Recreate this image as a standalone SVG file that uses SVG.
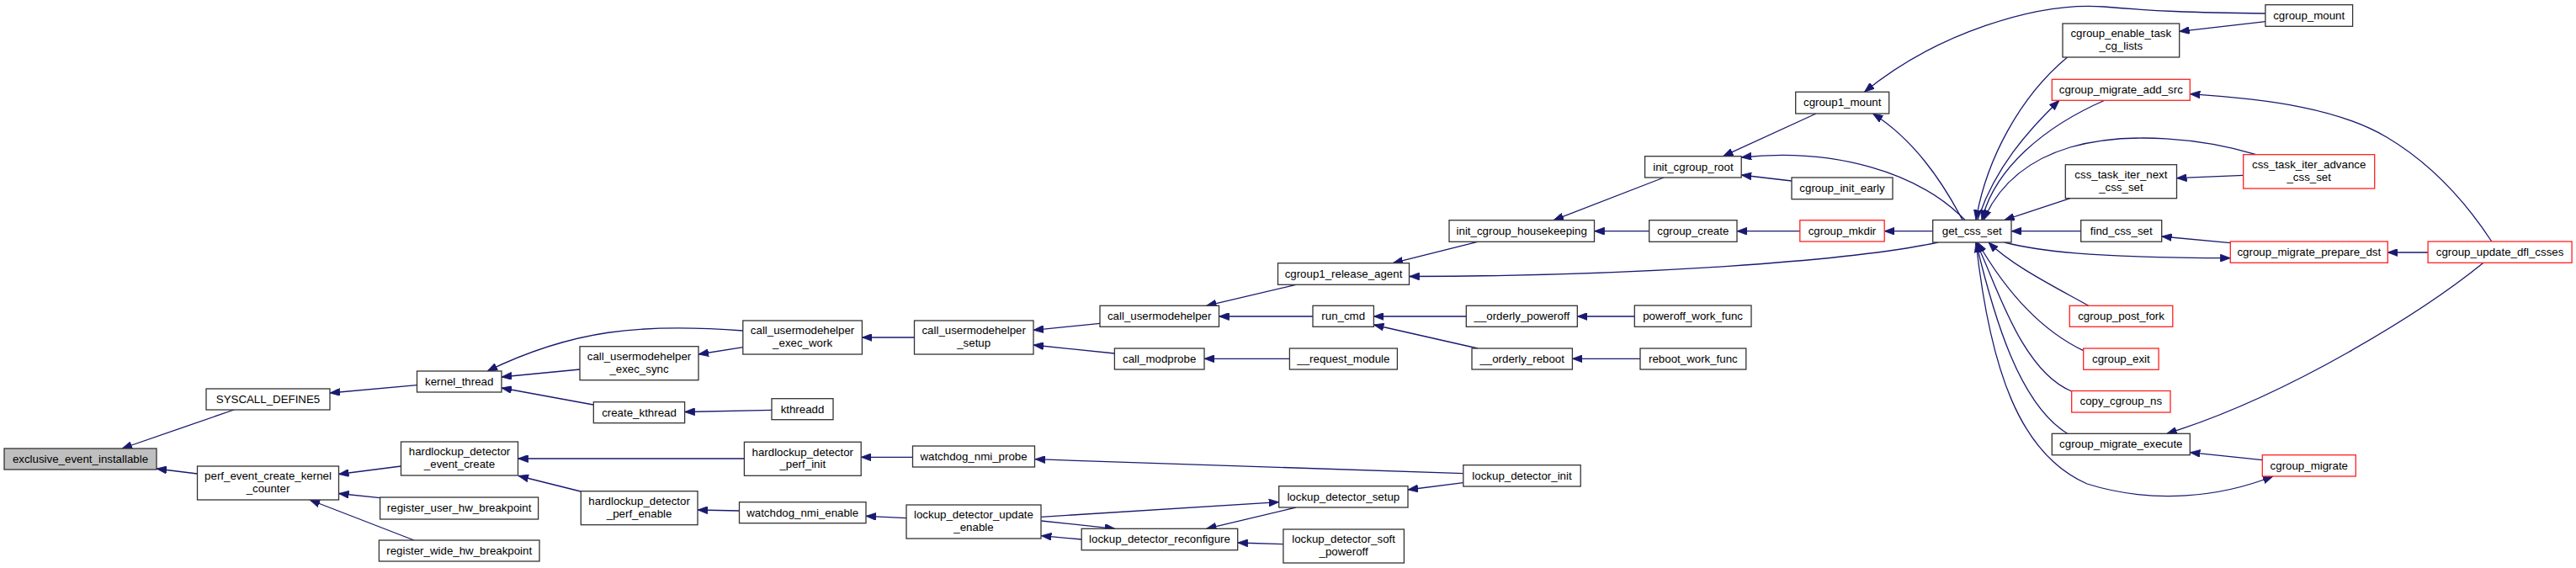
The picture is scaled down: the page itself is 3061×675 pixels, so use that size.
<svg xmlns="http://www.w3.org/2000/svg" width="3061" height="675" viewBox="0 0 3061 675">
<style>
.n rect{fill:#ffffff;stroke:#333333;stroke-width:1.3}
.n.r rect{stroke:#ff2020}
.n.root rect{fill:#bfbfbf}
.n text{font-family:"Liberation Sans",Arial,sans-serif;font-size:13.3px;fill:#000;text-anchor:middle}
.e path{fill:none;stroke:#191970;stroke-width:1.3;marker-end:url(#ah)}
</style>
<defs>
<marker id="ah" viewBox="0 0 12 9" refX="12" refY="4.5" markerWidth="12" markerHeight="9" markerUnits="userSpaceOnUse" orient="auto">
<path d="M0,0 L12,4.5 L0,9 z" fill="#191970" stroke="#191970" stroke-width="0.8"/>
</marker>
</defs>
<rect width="3061" height="675" fill="#ffffff"/>
<g id="edges" class="e">
<path d="M278,487 L145,533"/>
<path d="M234.5,563 L186,557"/>
<path d="M495.5,457.7 L392,467"/>
<path d="M476.5,554 L402.5,563.5"/>
<path d="M451.6,591.7 L402.5,586.5"/>
<path d="M492,642 Q440,622 368,594"/>
<path d="M883,393 C760,384 680,392 579,441"/>
<path d="M689,439 L596,448"/>
<path d="M705,481 L596,461"/>
<path d="M883,412.7 L830,421"/>
<path d="M1086.5,401 L1024.4,401"/>
<path d="M917,487.3 L813.6,489.5"/>
<path d="M884.4,545 L615.6,545"/>
<path d="M690,584 L616,565.5"/>
<path d="M1084.5,543.3 L1023.2,543.3"/>
<path d="M878.5,607 L829,606"/>
<path d="M1077,615.7 L1029,613.3"/>
<path d="M1307,384.3 L1228,392.3"/>
<path d="M1324.4,420 L1228,410"/>
<path d="M1540,338.3 L1433.5,363.3"/>
<path d="M1560,376 L1448.5,376"/>
<path d="M1532.4,426.3 L1431,426.3"/>
<path d="M1742.3,376 L1632.4,376"/>
<path d="M1756,414 L1632.4,386"/>
<path d="M1738.8,562.7 L1230,545.7"/>
<path d="M1738.8,573.7 L1673,582"/>
<path d="M1237.4,614.3 L1519.7,596.7"/>
<path d="M1237.4,619 L1325,628.3"/>
<path d="M1285.2,641 L1237.4,636.7"/>
<path d="M1540,603 L1433.5,628.3"/>
<path d="M1524.9,646.7 L1470.7,645"/>
<path d="M1755.8,287.3 L1655,312.7"/>
<path d="M2303,288 C2200,310 1950,328 1674.7,328.5"/>
<path d="M1942.3,376 L1874.3,376"/>
<path d="M1949,426.3 L1868.4,426.3"/>
<path d="M1977,211 L1846,261.7"/>
<path d="M1959.7,274.7 L1894.5,274.7"/>
<path d="M2138.8,274.7 L2064,274.7"/>
<path d="M2296.7,274.7 L2239.2,274.7"/>
<path d="M2158,135 L2047.5,185.7"/>
<path d="M2129,215 L2069.2,208"/>
<path d="M2335,261.5 C2280,205 2180,175 2069.2,187"/>
<path d="M2332,261.5 C2300,200 2265,160 2225.4,135"/>
<path d="M2692,16 C2600,15 2560,13 2500,8 C2420,2 2300,40 2215.5,109.3"/>
<path d="M2691.9,25.7 L2589.7,37.3"/>
<path d="M2456.6,68 C2400,115 2360,190 2348,261.5"/>
<path d="M2350,261.5 C2370,200 2410,155 2447,119.3"/>
<path d="M2501.4,119 C2430,150 2370,200 2355,261.5"/>
<path d="M2680.8,183.7 C2620,165 2530,155 2460,175 C2410,190 2375,220 2357,261.5"/>
<path d="M2665.7,208.3 L2586.5,211.7"/>
<path d="M2460,235.7 L2381.7,261.5"/>
<path d="M2472.7,274.7 L2390,274.7"/>
<path d="M2650.3,288.7 L2568.7,281"/>
<path d="M2381.7,288 C2420,298 2480,306 2650.3,306.7"/>
<path d="M2885.1,300 L2837.2,300"/>
<path d="M2960.8,287 C2930,240 2890,195 2836,163 C2780,130 2700,118 2602.4,111.7"/>
<path d="M2951,312.3 C2880,370 2720,470 2574.7,515.3"/>
<path d="M2688.3,546.7 L2602.4,537.7"/>
<path d="M2348,288 C2365,440 2400,540 2480,575 C2560,600 2640,590 2701,566"/>
<path d="M2481.7,363.3 C2440,340 2390,315 2363,288"/>
<path d="M2475.7,416.7 C2420,390 2380,340 2350,288"/>
<path d="M2461.7,465 C2400,440 2370,330 2348,288"/>
<path d="M2456.7,515.3 C2400,480 2370,380 2348,288"/>
</g>
<g id="exclusive_event_installable" class="n root"><rect x="5" y="533" width="181" height="25"/><text x="95.5" y="549.8">exclusive_event_installable</text></g>
<g id="SYSCALL_DEFINE5" class="n"><rect x="245" y="462" width="147" height="25"/><text x="318.5" y="478.8">SYSCALL_DEFINE5</text></g>
<g id="perf_event_create_kernel_counter" class="n"><rect x="234.5" y="554" width="168" height="40"/><text x="318.5" y="570.2">perf_event_create_kernel</text><text x="318.5" y="585">_counter</text></g>
<g id="kernel_thread" class="n"><rect x="495.5" y="441" width="100.5" height="25"/><text x="545.7" y="457.8">kernel_thread</text></g>
<g id="hardlockup_detector_event_create" class="n"><rect x="476.5" y="525" width="139" height="40"/><text x="546" y="541.2">hardlockup_detector</text><text x="546" y="556">_event_create</text></g>
<g id="register_user_hw_breakpoint" class="n"><rect x="451.6" y="591" width="188" height="26"/><text x="545.6" y="608.3">register_user_hw_breakpoint</text></g>
<g id="register_wide_hw_breakpoint" class="n"><rect x="450.4" y="642" width="190.6" height="25"/><text x="545.7" y="658.8">register_wide_hw_breakpoint</text></g>
<g id="call_usermodehelper_exec_work" class="n"><rect x="882.8" y="381" width="141.6" height="40"/><text x="953.6" y="397.2">call_usermodehelper</text><text x="953.6" y="412">_exec_work</text></g>
<g id="call_usermodehelper_exec_sync" class="n"><rect x="689" y="411.7" width="141" height="40"/><text x="759.5" y="427.9">call_usermodehelper</text><text x="759.5" y="442.7">_exec_sync</text></g>
<g id="create_kthread" class="n"><rect x="705.3" y="477.7" width="108.3" height="25"/><text x="759.5" y="494.5">create_kthread</text></g>
<g id="kthreadd" class="n"><rect x="917" y="473.7" width="73" height="25"/><text x="953.5" y="490.5">kthreadd</text></g>
<g id="hardlockup_detector_perf_init" class="n"><rect x="884.4" y="525.3" width="138.8" height="40"/><text x="953.8" y="541.5">hardlockup_detector</text><text x="953.8" y="556.3">_perf_init</text></g>
<g id="hardlockup_detector_perf_enable" class="n"><rect x="690.3" y="583.7" width="138.7" height="40"/><text x="759.6" y="599.9">hardlockup_detector</text><text x="759.6" y="614.7">_perf_enable</text></g>
<g id="call_usermodehelper_setup" class="n"><rect x="1086.5" y="381" width="141.5" height="40"/><text x="1157.2" y="397.2">call_usermodehelper</text><text x="1157.2" y="412">_setup</text></g>
<g id="watchdog_nmi_probe" class="n"><rect x="1084.5" y="530" width="145" height="25"/><text x="1157" y="546.8">watchdog_nmi_probe</text></g>
<g id="watchdog_nmi_enable" class="n"><rect x="878.5" y="596.7" width="150.5" height="25"/><text x="953.7" y="613.5">watchdog_nmi_enable</text></g>
<g id="lockup_detector_update_enable" class="n"><rect x="1077" y="600" width="160" height="40"/><text x="1157" y="616.2">lockup_detector_update</text><text x="1157" y="631">_enable</text></g>
<g id="call_usermodehelper" class="n"><rect x="1307" y="363.3" width="141.5" height="25"/><text x="1377.7" y="380.1">call_usermodehelper</text></g>
<g id="call_modprobe" class="n"><rect x="1324.4" y="414" width="106.6" height="25"/><text x="1377.7" y="430.8">call_modprobe</text></g>
<g id="cgroup1_release_agent" class="n"><rect x="1518.5" y="312.7" width="156" height="25.6"/><text x="1596.5" y="329.5">cgroup1_release_agent</text></g>
<g id="run_cmd" class="n"><rect x="1560" y="363.3" width="72.4" height="25"/><text x="1596.2" y="380.1">run_cmd</text></g>
<g id="__request_module" class="n"><rect x="1532.4" y="414" width="128" height="25"/><text x="1596.4" y="430.8">__request_module</text></g>
<g id="lockup_detector_setup" class="n"><rect x="1519.7" y="577.7" width="153.3" height="25.3"/><text x="1596.3" y="594.5">lockup_detector_setup</text></g>
<g id="lockup_detector_reconfigure" class="n"><rect x="1285.2" y="628.3" width="185.5" height="25.4"/><text x="1378" y="645.1">lockup_detector_reconfigure</text></g>
<g id="lockup_detector_soft_poweroff" class="n"><rect x="1524.9" y="629" width="143.5" height="40"/><text x="1596.6" y="645.2">lockup_detector_soft</text><text x="1596.6" y="660">_poweroff</text></g>
<g id="init_cgroup_housekeeping" class="n"><rect x="1722" y="261.7" width="172.5" height="25.6"/><text x="1808.2" y="278.5">init_cgroup_housekeeping</text></g>
<g id="__orderly_poweroff" class="n"><rect x="1742.3" y="363.3" width="132" height="25"/><text x="1808.3" y="380.1">__orderly_poweroff</text></g>
<g id="__orderly_reboot" class="n"><rect x="1749" y="414" width="119.4" height="25"/><text x="1808.7" y="430.8">__orderly_reboot</text></g>
<g id="lockup_detector_init" class="n"><rect x="1738.8" y="552.7" width="139.4" height="25.3"/><text x="1808.5" y="569.5">lockup_detector_init</text></g>
<g id="poweroff_work_func" class="n"><rect x="1942.3" y="363" width="138.7" height="25.3"/><text x="2011.6" y="379.8">poweroff_work_func</text></g>
<g id="reboot_work_func" class="n"><rect x="1949" y="414" width="125.8" height="25"/><text x="2011.9" y="430.8">reboot_work_func</text></g>
<g id="init_cgroup_root" class="n"><rect x="1954.6" y="185.7" width="114.6" height="25.3"/><text x="2011.9" y="202.5">init_cgroup_root</text></g>
<g id="cgroup_create" class="n"><rect x="1959.7" y="261.7" width="104.3" height="25.6"/><text x="2011.8" y="278.5">cgroup_create</text></g>
<g id="cgroup1_mount" class="n"><rect x="2133.7" y="109.3" width="111" height="25.7"/><text x="2189.2" y="126.1">cgroup1_mount</text></g>
<g id="cgroup_init_early" class="n"><rect x="2129" y="211" width="120" height="25.7"/><text x="2189" y="227.8">cgroup_init_early</text></g>
<g id="cgroup_mkdir" class="n r"><rect x="2138.8" y="261.7" width="100.4" height="25.3"/><text x="2189" y="278.5">cgroup_mkdir</text></g>
<g id="get_css_set" class="n"><rect x="2296.7" y="261.5" width="93.3" height="26.5"/><text x="2343.3" y="278.8">get_css_set</text></g>
<g id="cgroup_mount" class="n"><rect x="2691.9" y="5.7" width="103.7" height="25.6"/><text x="2743.7" y="22.5">cgroup_mount</text></g>
<g id="cgroup_enable_task_cg_lists" class="n"><rect x="2451" y="28" width="138.7" height="40"/><text x="2520.3" y="44.2">cgroup_enable_task</text><text x="2520.3" y="59">_cg_lists</text></g>
<g id="cgroup_migrate_add_src" class="n r"><rect x="2438.3" y="94.3" width="164" height="25"/><text x="2520.3" y="111.1">cgroup_migrate_add_src</text></g>
<g id="css_task_iter_next_css_set" class="n"><rect x="2454.3" y="195.7" width="132.2" height="40"/><text x="2520.4" y="211.9">css_task_iter_next</text><text x="2520.4" y="226.7">_css_set</text></g>
<g id="css_task_iter_advance_css_set" class="n r"><rect x="2665.7" y="183.7" width="156" height="40.3"/><text x="2743.7" y="199.9">css_task_iter_advance</text><text x="2743.7" y="214.7">_css_set</text></g>
<g id="find_css_set" class="n"><rect x="2472.7" y="261.7" width="96" height="25.5"/><text x="2520.7" y="278.5">find_css_set</text></g>
<g id="cgroup_migrate_prepare_dst" class="n r"><rect x="2650.3" y="287" width="187" height="25.3"/><text x="2743.8" y="303.8">cgroup_migrate_prepare_dst</text></g>
<g id="cgroup_update_dfl_csses" class="n r"><rect x="2885.1" y="287" width="171" height="25.3"/><text x="2970.6" y="303.8">cgroup_update_dfl_csses</text></g>
<g id="cgroup_post_fork" class="n r"><rect x="2459.3" y="363.3" width="122.5" height="25"/><text x="2520.5" y="380.1">cgroup_post_fork</text></g>
<g id="cgroup_exit" class="n r"><rect x="2475.7" y="414" width="89.4" height="25.3"/><text x="2520.4" y="430.8">cgroup_exit</text></g>
<g id="copy_cgroup_ns" class="n r"><rect x="2461.7" y="464.5" width="117.3" height="25.5"/><text x="2520.3" y="481.3">copy_cgroup_ns</text></g>
<g id="cgroup_migrate_execute" class="n"><rect x="2438.3" y="515.3" width="164" height="25.4"/><text x="2520.3" y="532.1">cgroup_migrate_execute</text></g>
<g id="cgroup_migrate" class="n r"><rect x="2688.3" y="540.7" width="111" height="25.3"/><text x="2743.8" y="557.5">cgroup_migrate</text></g>
</svg>
